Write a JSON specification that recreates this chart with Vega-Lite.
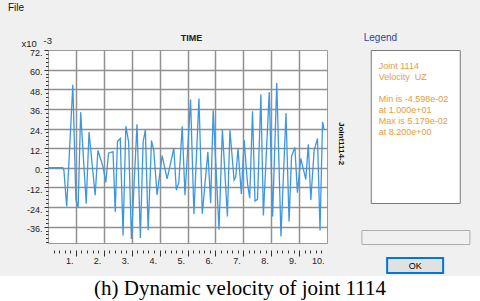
{
  "$schema": "https://vega.github.io/schema/vega-lite/v6.json",
  "background": "#f0f0f0",
  "padding": {"left": 0, "top": 2, "right": 0, "bottom": 0},
  "title": {"text": "File", "anchor": "start", "font": "Liberation Sans", "fontSize": 10, "fontWeight": "normal", "color": "#111111", "dx": 8, "offset": 20},
  "spacing": 2,
  "vconcat": [
    {
      "spacing": 19,
      "hconcat": [
        {
          "width": 1,
          "height": 1,
          "data": {"values": [{"label": ""}]},
          "mark": {"type": "text"},
          "encoding": {"text": {"field": "label"}}
        },
        {
          "spacing": 15,
          "hconcat": [
            {
              "width": 279,
              "height": 193,
              "title": {"text": "TIME", "font": "Liberation Sans", "fontSize": 9, "fontWeight": "bold", "color": "#222222", "offset": -8, "frame": "group", "dx": 4},
              "view": {"fill": "white", "stroke": "#9a9a9a"},
              "data": {"values": [
                {"t": 0, "v": 0}, {"t": 0.53, "v": 0}, {"t": 0.57, "v": -1.5}, {"t": 0.67, "v": -23.7},
                {"t": 0.89, "v": 50.8}, {"t": 1.0, "v": -19.5}, {"t": 1.08, "v": -24}, {"t": 1.17, "v": 34},
                {"t": 1.37, "v": -22}, {"t": 1.47, "v": 21.9}, {"t": 1.69, "v": -16.8}, {"t": 1.79, "v": 10.6},
                {"t": 1.98, "v": 0}, {"t": 2.07, "v": -9}, {"t": 2.17, "v": 8.9}, {"t": 2.33, "v": 9.8},
                {"t": 2.41, "v": -27}, {"t": 2.49, "v": 16}, {"t": 2.59, "v": 17.9}, {"t": 2.69, "v": -41.5},
                {"t": 2.79, "v": 25.4}, {"t": 2.89, "v": 15.8}, {"t": 2.99, "v": -43.5}, {"t": 3.19, "v": 26.6},
                {"t": 3.31, "v": -43}, {"t": 3.41, "v": 15.9}, {"t": 3.49, "v": 23.2}, {"t": 3.59, "v": -38.2},
                {"t": 3.71, "v": 16.6}, {"t": 3.79, "v": 10.8}, {"t": 3.91, "v": -16.6}, {"t": 4.09, "v": 7.4},
                {"t": 4.27, "v": -6.8}, {"t": 4.51, "v": 11.8}, {"t": 4.6, "v": -13.6}, {"t": 4.69, "v": -9},
                {"t": 4.81, "v": 25.4}, {"t": 4.91, "v": -16.8}, {"t": 5.11, "v": 41.7}, {"t": 5.23, "v": -28.3},
                {"t": 5.41, "v": 42.3}, {"t": 5.53, "v": -28.1}, {"t": 5.73, "v": 9.8}, {"t": 5.83, "v": -21.7},
                {"t": 5.92, "v": 35.1}, {"t": 6.13, "v": -37.9}, {"t": 6.25, "v": 23.7}, {"t": 6.43, "v": -29.8},
                {"t": 6.52, "v": 23}, {"t": 6.67, "v": -7.5}, {"t": 6.73, "v": -5.5}, {"t": 6.81, "v": 11.8},
                {"t": 6.93, "v": -16}, {"t": 7.03, "v": 16.9}, {"t": 7.15, "v": -9.5}, {"t": 7.23, "v": -18.6},
                {"t": 7.33, "v": 34.5}, {"t": 7.42, "v": -20.3}, {"t": 7.51, "v": -19.3}, {"t": 7.63, "v": 44.9},
                {"t": 7.72, "v": -29.2}, {"t": 7.93, "v": 46.3}, {"t": 8.05, "v": -29.8}, {"t": 8.2, "v": 51.79},
                {"t": 8.35, "v": -42}, {"t": 8.53, "v": 33.5}, {"t": 8.64, "v": -32.9}, {"t": 8.73, "v": 7.1},
                {"t": 8.85, "v": 12.4}, {"t": 8.94, "v": -15.2}, {"t": 9.06, "v": 5.7}, {"t": 9.24, "v": -7.1},
                {"t": 9.33, "v": 14.4}, {"t": 9.42, "v": -19.7}, {"t": 9.54, "v": 10.8}, {"t": 9.66, "v": 17.9},
                {"t": 9.75, "v": -38.4}, {"t": 9.84, "v": 28}, {"t": 9.9, "v": 23}
              ]},
              "encoding": {
                "x": {
                  "field": "t", "type": "quantitative",
                  "scale": {"domain": [0, 10], "nice": false, "zero": false},
                  "axis": {
                    "title": null,
                    "values": [0.2,0.4,0.6,0.8,1,1.2,1.4,1.6,1.8,2,2.2,2.4,2.6,2.8,3,3.2,3.4,3.6,3.8,4,4.2,4.4,4.6,4.8,5,5.2,5.4,5.6,5.8,6,6.2,6.4,6.6,6.8,7,7.2,7.4,7.6,7.8,8,8.2,8.4,8.6,8.8,9,9.2,9.4,9.6,9.8,10],
                    "labelExpr": "datum.value === round(datum.value) ? datum.value + '.' : ''",
                    "grid": true,
                    "gridColor": "#909090",
                    "gridWidth": 1.5,
                    "gridOpacity": {"condition": {"test": "datum.value === round(datum.value) && datum.value < 10", "value": 1}, "value": 0},
                    "tickSize": {"condition": {"test": "datum.value === round(datum.value)", "value": 6}, "value": 3},
                    "tickOpacity": {"condition": {"test": "datum.value > 9.9", "value": 0}, "value": 1},
                    "tickColor": "#333333",
                    "tickWidth": 1,
                    "domain": false,
                    "offset": 7,
                    "labelFont": "Liberation Sans",
                    "labelFontSize": 9,
                    "labelColor": "#222222",
                    "labelAlign": "right",
                    "labelOffset": -3,
                    "labelPadding": 0,
                    "labelFlush": false,
                    "labelOverlap": false
                  }
                }
              },
              "layer": [
                {
                  "mark": {"type": "line", "color": "#3d97e0", "strokeWidth": 1.3, "clip": true},
                  "encoding": {
                    "y": {
                      "field": "v", "type": "quantitative",
                      "scale": {"domain": [-46, 72], "nice": false, "zero": false},
                      "axis": {
                        "orient": "left",
                        "values": [72,69.6,67.2,64.8,62.4,60,57.6,55.2,52.8,50.4,48,45.6,43.2,40.8,38.4,36,33.6,31.2,28.8,26.4,24,21.6,19.2,16.8,14.4,12,9.6,7.2,4.8,2.4,0,-2.4,-4.8,-7.2,-9.6,-12,-14.4,-16.8,-19.2,-21.6,-24,-26.4,-28.8,-31.2,-33.6,-36,-38.4,-40.8,-43.2,-45.6],
                        "labelExpr": "datum.value % 12 === 0 ? datum.value + '.' : ''",
                        "grid": true,
                        "gridColor": "#909090",
                        "gridWidth": 1.5,
                        "gridOpacity": {"condition": {"test": "datum.value % 12 === 0 && datum.value < 72", "value": 1}, "value": 0},
                        "tickSize": {"condition": {"test": "datum.value % 12 === 0", "value": 4}, "value": 2.5},
                        "tickColor": "#333333",
                        "domain": false,
                        "labelFont": "Liberation Sans",
                        "labelFontSize": 9,
                        "labelColor": "#222222",
                        "labelOffset": 2,
                        "labelPadding": 2,
                        "labelFlush": false,
                        "labelOverlap": false,
                        "title": "x10",
                        "titleAngle": 0,
                        "titleAlign": "left",
                        "titleBaseline": "alphabetic",
                        "titleFont": "Liberation Sans",
                        "titleFontSize": 9.5,
                        "titleFontWeight": "normal",
                        "titleColor": "#222222",
                        "titleX": -27,
                        "titleY": -4
                      }
                    }
                  }
                },
                {
                  "mark": {"type": "line", "opacity": 0},
                  "encoding": {
                    "y": {
                      "field": "v", "type": "quantitative",
                      "scale": {"domain": [-46, 72], "nice": false, "zero": false},
                      "axis": {
                        "orient": "left",
                        "grid": false, "labels": false, "ticks": false, "domain": false,
                        "title": "-3",
                        "titleAngle": 0,
                        "titleAlign": "left",
                        "titleBaseline": "alphabetic",
                        "titleFont": "Liberation Sans",
                        "titleFontSize": 9.5,
                        "titleFontWeight": "normal",
                        "titleColor": "#222222",
                        "titleX": -5,
                        "titleY": -7
                      }
                    }
                  }
                },
                {
                  "mark": {"type": "line", "opacity": 0},
                  "encoding": {
                    "y": {
                      "field": "v", "type": "quantitative",
                      "scale": {"domain": [-46, 72], "nice": false, "zero": false},
                      "axis": {
                        "orient": "right",
                        "grid": false, "labels": false, "ticks": false, "domain": false,
                        "title": "Joint1114-2",
                        "titleFont": "Liberation Sans",
                        "titleFontSize": 8,
                        "titleFontWeight": "bold",
                        "titleColor": "#111111",
                        "titleBaseline": "middle",
                        "titleX": 13,
                        "titleY": 93
                      }
                    }
                  }
                }
              ],
              "resolve": {"scale": {"y": "independent"}, "axis": {"y": "independent"}}
            },
            {
              "spacing": 25,
              "center": true,
              "vconcat": [
                {
                  "width": 89,
                  "height": 153,
                  "title": {"text": "Legend", "anchor": "start", "font": "Liberation Sans", "fontSize": 10, "fontWeight": "normal", "color": "#2f3f9f", "offset": 7, "dx": -7},
                  "view": {"fill": "white", "stroke": "#7a7a7a"},
                  "data": {"values": [
                    {"line": 1, "text": "Joint 1114"},
                    {"line": 2, "text": "Velocity\u00a0 UZ"},
                    {"line": 4, "text": "Min is -4.598e-02"},
                    {"line": 5, "text": "at 1.000e+01"},
                    {"line": 6, "text": "Max is 5.179e-02"},
                    {"line": 7, "text": "at 8.200e+00"}
                  ]},
                  "mark": {"type": "text", "align": "left", "baseline": "middle", "font": "Liberation Sans", "fontSize": 9, "color": "#e89b3c", "dx": 8},
                  "encoding": {
                    "x": {"datum": 0, "type": "quantitative", "scale": {"domain": [0, 1]}, "axis": null},
                    "y": {"field": "line", "type": "quantitative", "scale": {"domain": [-0.5, 13.5], "reverse": true}, "axis": null},
                    "text": {"field": "text"}
                  }
                },
                {
                  "spacing": 12,
                  "center": true,
                  "vconcat": [
                    {
                      "width": 108,
                      "height": 14,
                      "view": {"fill": "#f0f0f0", "stroke": "#adadad"},
                      "data": {"values": [{"label": ""}]},
                      "mark": {"type": "text"},
                      "encoding": {"text": {"field": "label"}}
                    },
                    {
                      "width": 56,
                      "height": 15,
                      "view": {"fill": "#e1e1e1", "stroke": "#0078d7", "strokeWidth": 2},
                      "data": {"values": [{"label": "OK"}]},
                      "mark": {"type": "text", "font": "Liberation Sans", "fontSize": 9, "color": "#000000"},
                      "encoding": {"text": {"field": "label"}}
                    }
                  ]
                }
              ]
            }
          ]
        }
      ]
    },
    {
      "width": 480,
      "height": 27,
      "view": {"fill": "white", "stroke": null},
      "data": {"values": [{"caption": "(h) Dynamic velocity of joint 1114"}]},
      "mark": {"type": "text", "font": "Liberation Serif", "fontSize": 21, "color": "#000000", "baseline": "middle", "dy": -1},
      "encoding": {"text": {"field": "caption"}}
    }
  ],
  "config": {"view": {"stroke": null}, "font": "Liberation Sans"}
}
